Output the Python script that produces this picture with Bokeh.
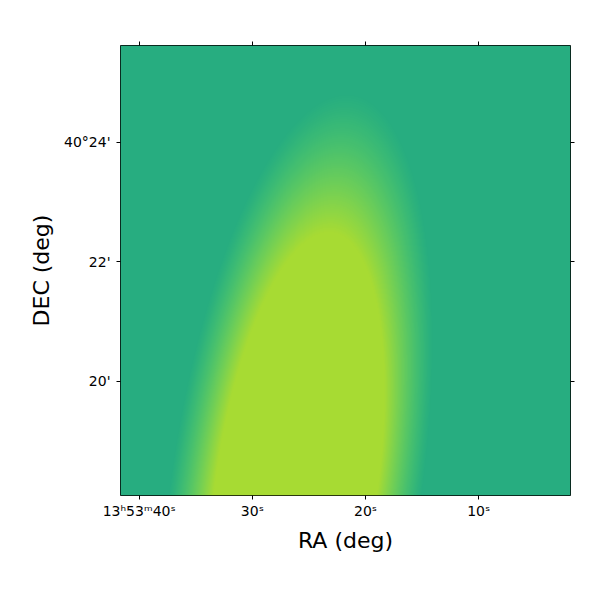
import numpy as np
from bokeh.plotting import figure
from bokeh.models import Range1d, FixedTicker, LinearAxis, LinearColorMapper
from bokeh.palettes import Viridis256
from bokeh.embed import file_html
from bokeh.resources import INLINE

# ---- axes (RA in seconds of 13h53m, Dec in arcmin past 40 deg) ----
RA_TICKS = [40, 30, 20, 10]
RA_LABELS = ["13ʰ53ᵐ40ˢ", "30ˢ", "20ˢ", "10ˢ"]
DEC_TICKS = [24, 22, 20]
DEC_LABELS = ["40°24'", "22'", "20'"]
RA_VIEW = [41.65, 1.89]        # left edge, right edge (s)
DEC_VIEW = [18.084, 25.615]    # bottom edge, top edge (arcmin)

# ---- source model ----
SRC_RA = 26.10       # s
SRC_DEC = 18.251     # arcmin
SIGMA_MAJ = 288.0    # arcsec
SIGMA_MIN = 92.0     # arcsec
SRC_PA = -8.2        # deg, east of north
STRETCH = [0.385, 0.675]     # display limits of the normalised brightness
CMAP_INDEX = [159, 223]      # part of viridis that is used

NPIX = 450
x0, x1 = -RA_VIEW[0], -RA_VIEW[1]
y0, y1 = DEC_VIEW
dx = (x1 - x0) / NPIX
dy = (y1 - y0) / NPIX
xs = x0 + dx * (np.arange(NPIX) + 0.5)
ys = y0 + dy * (np.arange(NPIX) + 0.5)
ra = -xs
east = (ra[None, :] - SRC_RA) * 15.0 * np.cos(np.radians(40.0 + SRC_DEC / 60.0))
north = (ys[:, None] - SRC_DEC) * 60.0
pa = np.radians(SRC_PA)
s = east * np.sin(pa) + north * np.cos(pa)
t = east * np.cos(pa) - north * np.sin(pa)
img = np.exp(-0.5 * ((s / SIGMA_MAJ) ** 2 + (t / SIGMA_MIN) ** 2)).astype(np.float32)

mapper = LinearColorMapper(palette=list(Viridis256[CMAP_INDEX[0]:CMAP_INDEX[1]]),
                           low=STRETCH[0], high=STRETCH[1])

p = figure(frame_width=450, frame_height=450,
           x_range=Range1d(x0, x1), y_range=Range1d(y0, y1),
           output_backend="svg", toolbar_location=None,
           min_border_left=120, min_border_right=22,
           min_border_top=45, min_border_bottom=97,
           x_axis_label="RA (deg)", y_axis_label="DEC (deg)")
p.image(image=[img], x=x0, y=y0, dw=x1 - x0, dh=y1 - y0, color_mapper=mapper)

p.grid.visible = False
p.outline_line_color = "black"
p.outline_line_width = 1
p.outline_line_alpha = 1
p.background_fill_color = "white"
p.border_fill_color = "white"

xt = [-v for v in RA_TICKS]
p.xaxis[0].ticker = FixedTicker(ticks=xt)
p.xaxis[0].major_label_overrides = {k: lab for k, lab in zip(xt, RA_LABELS)}
p.yaxis[0].ticker = FixedTicker(ticks=DEC_TICKS)
p.yaxis[0].major_label_overrides = {k: lab for k, lab in zip(DEC_TICKS, DEC_LABELS)}

for ax in [p.xaxis[0], p.yaxis[0]]:
    ax.major_label_text_font = "DejaVu Sans"
    ax.major_label_text_font_size = "14px"
    ax.major_label_text_color = "black"
    ax.axis_label_text_font = "DejaVu Sans"
    ax.axis_label_text_font_size = "22px"
    ax.axis_label_text_font_style = "normal"
    ax.axis_label_text_color = "black"
    ax.major_tick_in = 0
    ax.major_tick_out = 4
    ax.major_tick_line_color = "black"
    ax.minor_tick_line_color = None
    ax.axis_line_color = None
p.xaxis[0].major_label_standoff = 3
p.xaxis[0].axis_label_standoff = 6
p.yaxis[0].major_label_standoff = 6
p.yaxis[0].axis_label_standoff = 7

top = LinearAxis(ticker=FixedTicker(ticks=xt))
right = LinearAxis(ticker=FixedTicker(ticks=DEC_TICKS))
for ax in [top, right]:
    ax.major_label_text_font_size = "0px"
    ax.major_label_text_alpha = 0
    ax.major_label_standoff = 0
    ax.major_tick_in = 0
    ax.major_tick_out = 4
    ax.major_tick_line_color = "black"
    ax.minor_tick_line_color = None
    ax.axis_line_color = None
p.add_layout(top, "above")
p.add_layout(right, "right")

open("out.html", "w").write(file_html(p, INLINE))
